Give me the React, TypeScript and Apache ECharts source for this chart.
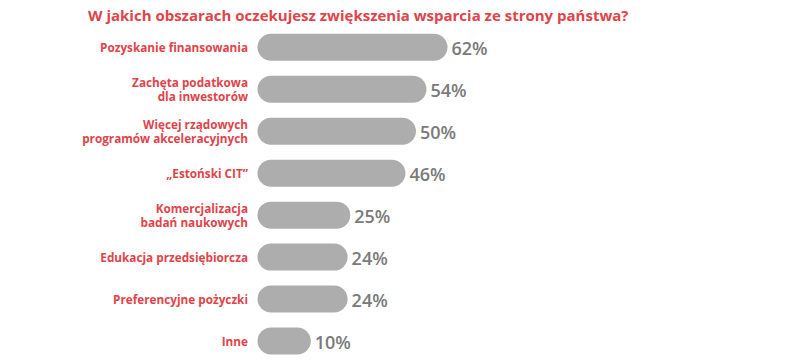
import React, { useEffect, useRef } from "react";
import * as echarts from "echarts";

const title = "W jakich obszarach oczekujesz zwiększenia wsparcia ze strony państwa?";
const categories = [
  "Pozyskanie finansowania",
  "Zachęta podatkowa\ndla inwestorów",
  "Więcej rządowych\nprogramów akceleracyjnych",
  "„Estoński CIT”",
  "Komercjalizacja\nbadań naukowych",
  "Edukacja przedsiębiorcza",
  "Preferencyjne pożyczki",
  "Inne",
];
const values = [62, 54, 50, 46, 25, 24, 24, 10];

const RED = "#e0444a";
const BAR = "#adadad";
const GRAY = "#7a7a7a";
const BAR_H = 27;

export default function App() {
  const ref = useRef<HTMLDivElement>(null);
  useEffect(() => {
    document.body.style.margin = "0";
    const chart = echarts.init(ref.current!, null, { renderer: "svg" });
    chart.setOption({
      animation: false,
      title: {
        text: title,
        left: 83,
        top: 2,
        textStyle: {
          color: RED,
          fontFamily: "Open Sans",
          fontWeight: 700,
          fontSize: 15,
        },
      },
      grid: { left: 271, top: 26.35, width: 262.9, height: 338.4 },
      xAxis: {
        type: "value",
        min: 0,
        max: 100,
        show: false,
      },
      yAxis: {
        type: "category",
        data: categories,
        inverse: true,
        axisLine: { show: false },
        axisTick: { show: false },
        splitLine: { show: false },
        axisLabel: {
          margin: 23,
          color: RED,
          fontFamily: "Open Sans",
          fontWeight: 700,
          fontSize: 11.75,
          lineHeight: 14,
          align: "right",
        },
      },
      series: [
        {
          type: "custom",
          data: values.map((v, i) => [v, i]),
          encode: { x: 0, y: 1 },
          renderItem: (params: any, api: any) => {
            const idx = api.value(1);
            const start = api.coord([0, idx]);
            const end = api.coord([api.value(0), idx]);
            const r = BAR_H / 2;
            return {
              type: "group",
              children: [
                {
                  type: "rect",
                  shape: {
                    x: start[0] - r,
                    y: start[1] - r,
                    width: end[0] - start[0] + BAR_H,
                    height: BAR_H,
                    r: r,
                  },
                  style: { fill: BAR },
                },
                {
                  type: "text",
                  x: end[0] + r + 4,
                  y: end[1] + 0.5,
                  style: {
                    text: api.value(0) + "%",
                    fill: GRAY,
                    fontFamily: "Open Sans",
                    fontWeight: 600,
                    fontSize: 18,
                    verticalAlign: "middle",
                    align: "left",
                  },
                },
              ],
            };
          },
        },
      ],
    });
    return () => chart.dispose();
  }, []);
  return <div ref={ref} style={{ width: 790, height: 362 }} />;
}
